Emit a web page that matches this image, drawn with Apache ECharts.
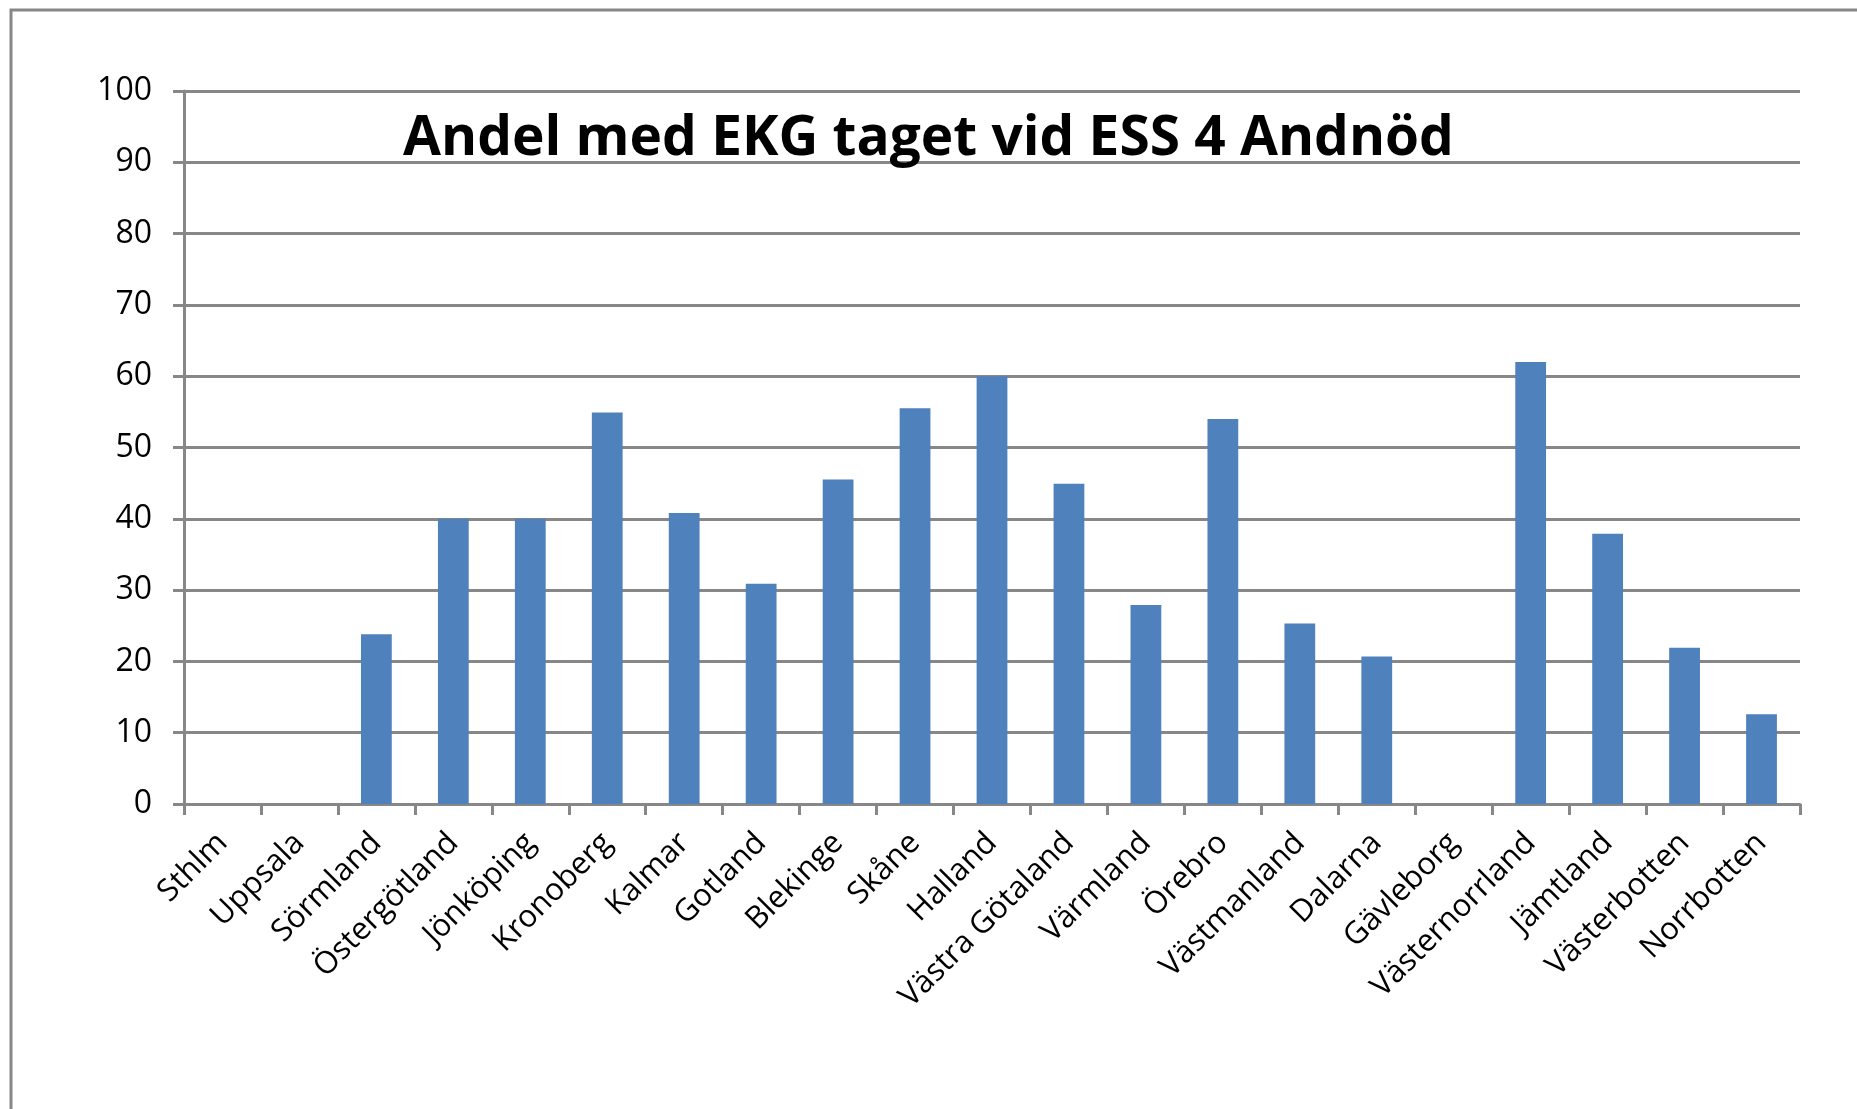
<!DOCTYPE html>
<html>
<head>
<meta charset="utf-8">
<title>Andel med EKG taget vid ESS 4 Andnöd</title>
<script src="https://cdn.jsdelivr.net/npm/echarts@6/dist/echarts.min.js"></script>
<style>
  html, body { margin: 0; padding: 0; background: #fff; }
  #chart { width: 1857px; height: 1109px; }
</style>
</head>
<body>
<div id="chart"></div>
<script>
// regioner och andel (%) med EKG taget
const regions = [
  'Sthlm', 'Uppsala', 'Sörmland', 'Östergötland', 'Jönköping', 'Kronoberg',
  'Kalmar', 'Gotland', 'Blekinge', 'Skåne', 'Halland', 'Västra Götaland',
  'Värmland', 'Örebro', 'Västmanland', 'Dalarna', 'Gävleborg',
  'Västernorrland', 'Jämtland', 'Västerbotten', 'Norrbotten'
]
const andel = [
  0, 0, 23.8, 40, 40, 54.9,
  40.8, 30.9, 45.5, 55.5, 60, 44.9,
  27.9, 54, 25.3, 20.7, 0,
  62, 37.9, 21.9, 12.6
]
const titleText = 'Andel med EKG taget vid ESS 4 Andnöd'

const gray = '#878787'
const chart = echarts.init(document.getElementById('chart'))

chart.setOption({
  animation: false,
  title: {
    text: titleText,
    left: 'center',
    top: 112,
    padding: 0,
    textStyle: {
      fontFamily: '"Open Sans", sans-serif',
      fontWeight: 'bold',
      fontSize: 55,
      color: '#000'
    }
  },
  graphic: [
    {
      type: 'rect',
      shape: { x: 11, y: 10, width: 1900, height: 1200 },
      style: { fill: 'none', stroke: gray, lineWidth: 3 },
      silent: true
    }
  ],
  grid: {
    left: 184,
    right: 57,
    top: 91,
    bottom: 305
  },
  xAxis: {
    type: 'category',
    data: regions,
    axisLine: { lineStyle: { color: gray, width: 3 } },
    axisTick: { show: true, length: 11, lineStyle: { color: gray, width: 3 } },
    axisLabel: {
      rotate: 45,
      interval: 0,
      margin: 34,
      fontFamily: '"Open Sans", sans-serif',
      fontSize: 31,
      color: '#000'
    }
  },
  yAxis: {
    type: 'value',
    min: 0,
    max: 100,
    interval: 10,
    axisLine: { show: true, lineStyle: { color: gray, width: 3 } },
    axisTick: { show: true, length: 11, lineStyle: { color: gray, width: 3 } },
    splitLine: { lineStyle: { color: gray, width: 3 } },
    axisLabel: {
      margin: 32,
      fontFamily: '"Open Sans", sans-serif',
      fontSize: 32,
      color: '#000'
    }
  },
  series: [
    {
      type: 'bar',
      data: andel,
      barWidth: '40%',
      itemStyle: {
        color: '#4F81BD'
      }
    }
  ]
})
</script>
</body>
</html>
